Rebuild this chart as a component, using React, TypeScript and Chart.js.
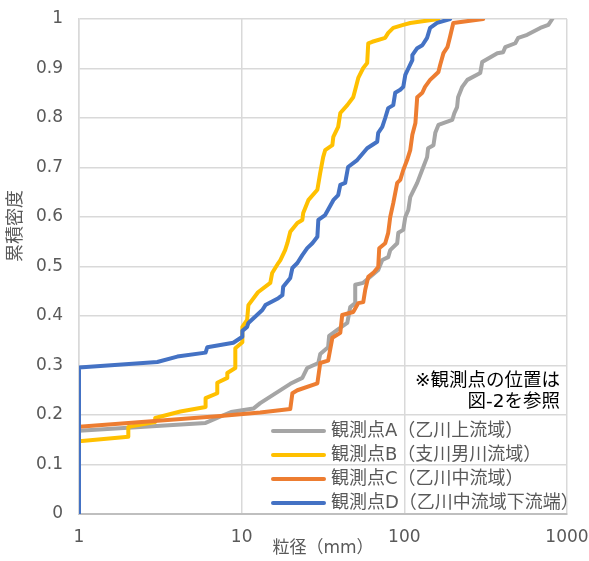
import React, { useEffect, useRef } from "react";
import { Chart, registerables } from "chart.js";

Chart.register(...registerables);

// ---- data ----
const xTickValues = [1, 10, 100, 1000];
const yMin = 0;
const yMax = 1;
const yStep = 0.1;

const xTitle = "粒径（mm）";
const yTitle = "累積密度";
const noteLines = ["※観測点の位置は", "図-2を参照"];

const seriesNames = [
  "観測点A（乙川上流域）",
  "観測点B（支川男川流域）",
  "観測点C（乙川中流域）",
  "観測点D（乙川中流域下流端）",
];
const seriesColors = ["#A5A5A5", "#FFC000", "#ED7D31", "#4472C4"];

// 観測点A
const sizeA = [1, 6, 8.6, 11.8, 13, 19.9, 23.6, 25.3, 29.6, 30.4, 34, 34.5, 38.7, 44.6, 46.5, 49.9, 49.9, 55.9, 69.1, 73.2, 79.6, 81.9, 90.4, 91.8, 98.5, 101.4, 105.8, 108.7, 120, 129, 138, 140, 151, 155, 162, 197, 203, 211, 214, 227, 244, 293, 301, 373, 405, 417, 481, 501, 569, 685, 768, 812];
const densA = [0.168, 0.184, 0.206, 0.213, 0.224, 0.263, 0.275, 0.295, 0.305, 0.323, 0.337, 0.36, 0.372, 0.386, 0.418, 0.426, 0.463, 0.467, 0.493, 0.513, 0.519, 0.533, 0.547, 0.568, 0.574, 0.6, 0.614, 0.64, 0.669, 0.696, 0.721, 0.739, 0.745, 0.77, 0.786, 0.796, 0.81, 0.822, 0.842, 0.863, 0.877, 0.891, 0.913, 0.931, 0.933, 0.943, 0.951, 0.962, 0.968, 0.982, 0.988, 1.0];

// 観測点B
const sizeB = [1, 2.01, 2.01, 2.94, 2.94, 4.2, 6.0, 6.0, 7.08, 7.08, 8.16, 8.16, 9.14, 9.14, 10.1, 10.1, 10.8, 11.0, 12.6, 15.0, 15.4, 16.8, 17.3, 18.5, 19.1, 19.9, 22.0, 23.6, 23.9, 25.7, 29.2, 30.4, 31.7, 32.6, 36.1, 36.6, 39.2, 40.4, 44.6, 48.5, 49.9, 52.1, 55.9, 59.1, 60.0, 63.5, 76.3, 79.6, 85.5, 98.5, 108.7, 162];
const densB = [0.147, 0.156, 0.176, 0.186, 0.194, 0.207, 0.216, 0.234, 0.244, 0.265, 0.275, 0.285, 0.295, 0.335, 0.347, 0.378, 0.392, 0.422, 0.448, 0.467, 0.487, 0.507, 0.513, 0.533, 0.547, 0.57, 0.588, 0.594, 0.608, 0.634, 0.655, 0.689, 0.721, 0.735, 0.745, 0.762, 0.782, 0.81, 0.826, 0.842, 0.857, 0.881, 0.901, 0.911, 0.951, 0.954, 0.962, 0.972, 0.982, 0.988, 0.992, 1.0];

// 観測点C
const sizeC = [1, 7.4, 13, 19.9, 20.5, 22.0, 29.2, 30.4, 34, 36.1, 40.4, 41.5, 48.5, 52.1, 55.9, 57.5, 60.0, 64.4, 69.1, 70.1, 76.3, 79.6, 81.9, 85.5, 90.4, 94.4, 98.5, 104, 108.7, 112, 117, 120, 129, 134, 144, 155, 162, 166, 174, 184, 191, 200, 305];
const densC = [0.176, 0.198, 0.205, 0.212, 0.244, 0.25, 0.264, 0.305, 0.31, 0.356, 0.366, 0.402, 0.408, 0.426, 0.428, 0.453, 0.479, 0.487, 0.499, 0.537, 0.547, 0.568, 0.6, 0.628, 0.669, 0.675, 0.695, 0.715, 0.735, 0.766, 0.79, 0.842, 0.851, 0.863, 0.877, 0.887, 0.893, 0.907, 0.931, 0.943, 0.964, 0.992, 1.0];

// 観測点D
const sizeD = [1, 1, 3.03, 4.02, 6.0, 6.15, 8.88, 10.1, 10.1, 10.8, 11.0, 13.4, 14.0, 16.8, 17.8, 18.0, 19.9, 20.5, 22.0, 23.6, 25.3, 27.2, 29.2, 29.6, 32.6, 36.6, 39.2, 40.4, 43.3, 45.1, 51.3, 59.1, 68.1, 69.1, 73.2, 76.3, 79.6, 85.5, 87.9, 94.4, 98.5, 101.4, 105.8, 112, 112, 120, 129, 138, 144, 159, 191];
const densD = [0, 0.296, 0.307, 0.318, 0.326, 0.337, 0.346, 0.358, 0.37, 0.378, 0.386, 0.412, 0.422, 0.436, 0.442, 0.459, 0.477, 0.497, 0.507, 0.523, 0.537, 0.547, 0.56, 0.594, 0.604, 0.634, 0.644, 0.665, 0.669, 0.701, 0.715, 0.739, 0.752, 0.77, 0.782, 0.8, 0.82, 0.826, 0.851, 0.857, 0.863, 0.887, 0.9, 0.917, 0.927, 0.941, 0.947, 0.962, 0.982, 0.992, 1.0];

const seriesSizes = [sizeA, sizeB, sizeC, sizeD];
const seriesDens = [densA, densB, densC, densD];
const drawOrder = [3, 2, 1, 0];

const FONT = "'DejaVu Sans', 'Noto Sans CJK JP', sans-serif";

const overlayPlugin = {
  id: "overlayLegend",
  afterDraw(chart: any) {
    const { ctx, chartArea } = chart;
    const { right, bottom } = chartArea;
    ctx.save();
    ctx.textBaseline = "middle";

    // y axis title (rotated)
    ctx.save();
    ctx.translate(16, 226);
    ctx.rotate(-Math.PI / 2);
    ctx.font = `18px ${FONT}`;
    ctx.fillStyle = "#595959";
    ctx.textAlign = "center";
    ctx.fillText(yTitle, 0, 0);
    ctx.restore();

    // note
    ctx.font = `18.5px ${FONT}`;
    ctx.fillStyle = "#000000";
    ctx.textAlign = "right";
    noteLines.forEach((t, i) => ctx.fillText(t, right - 7, bottom - 133 + i * 21));

    // legend
    ctx.font = `18px ${FONT}`;
    chart.data.datasets.forEach((ds: any, i: number) => {
      const y = bottom - 83 + i * 24;
      ctx.strokeStyle = ds.borderColor;
      ctx.lineWidth = 4;
      ctx.lineCap = "round";
      ctx.beginPath();
      ctx.moveTo(right - 294, y);
      ctx.lineTo(right - 243, y);
      ctx.stroke();
      ctx.fillStyle = "#595959";
      ctx.textAlign = "left";
      ctx.fillText(ds.label, right - 236, y);
    });
    ctx.restore();
  },
};

export default function App() {
  const ref = useRef<HTMLCanvasElement | null>(null);
  useEffect(() => {
    if (!ref.current) return;
    const datasets = seriesNames.map((name, i) => ({
      label: name,
      data: seriesSizes[i].map((x, j) => ({ x, y: seriesDens[i][j] })),
      borderColor: seriesColors[i],
      backgroundColor: seriesColors[i],
      borderWidth: 4,
      pointRadius: 0,
      fill: false,
      tension: 0,
      showLine: true,
      order: drawOrder[i],
      borderJoinStyle: "round" as const,
      borderCapStyle: "round" as const,
    }));
    const chart = new Chart(ref.current, {
      type: "scatter",
      data: { datasets },
      plugins: [overlayPlugin],
      options: {
        animation: false,
        responsive: false,
        devicePixelRatio: 1,
        layout: { padding: { top: 19, right: 22, bottom: 0, left: 0 } },
        plugins: { legend: { display: false }, tooltip: { enabled: false } },
        scales: {
          x: {
            type: "logarithmic",
            min: xTickValues[0],
            max: xTickValues[xTickValues.length - 1],
            afterBuildTicks: (scale: any) => {
              scale.ticks = xTickValues.map((v) => ({ value: v }));
            },
            afterFit: (scale: any) => {
              scale.height = 47;
              scale.paddingLeft = 0;
              scale.paddingRight = 0;
            },
            ticks: {
              autoSkip: false,
              maxRotation: 0,
              padding: 13,
              color: "#595959",
              font: { family: FONT, size: 17 },
              callback: (v: any) => String(v),
            },
            grid: { color: "#D9D9D9", lineWidth: 1.5, drawTicks: false },
            border: { color: "#BFBFBF", width: 2 },
            title: {
              display: true,
              text: xTitle,
              color: "#595959",
              font: { family: FONT, size: 17 },
              padding: { top: 0, bottom: 2 },
            },
          },
          y: {
            min: yMin,
            max: yMax,
            ticks: {
              stepSize: yStep,
              padding: 16,
              color: "#595959",
              font: { family: FONT, size: 17 },
              callback: (v: any) => String(Number(Number(v).toFixed(1))),
            },
            afterFit: (scale: any) => {
              scale.width = 79;
              scale.paddingTop = 0;
              scale.paddingBottom = 0;
            },
            grid: { color: "#D9D9D9", lineWidth: 1.5, drawTicks: false },
            border: { color: "#D9D9D9", width: 1.5 },
          },
        },
      },
    } as any);
    return () => chart.destroy();
  }, []);
  return (
    <div style={{ position: "fixed", left: 0, top: 0, width: 589, height: 561, background: "#fff" }}>
      <canvas ref={ref} width={589} height={561} style={{ width: 589, height: 561 }} />
    </div>
  );
}
